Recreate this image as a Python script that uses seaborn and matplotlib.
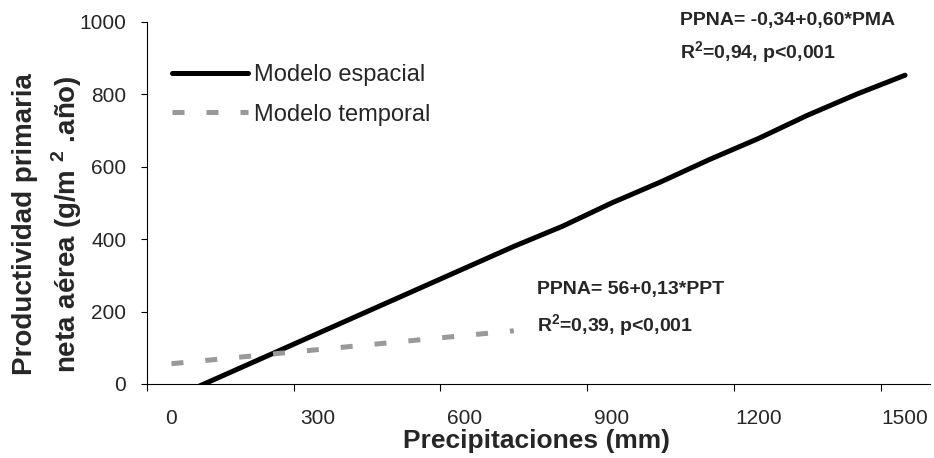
import numpy as np
import pandas as pd
import matplotlib
matplotlib.use("Agg")
import matplotlib.pyplot as plt
import seaborn as sns
from matplotlib.ticker import FixedLocator, NullFormatter, FixedFormatter

# ====================== DATA ======================

precip_espacial = [0, 100, 200, 300, 400, 500, 600, 700, 800, 900, 1000, 1100, 1200, 1300, 1400, 1500]
ppna_espacial   = [-40, 20, 80, 140, 200, 260, 320, 380, 436, 500, 558, 620, 678, 742, 800, 853]

precip_temporal = [0, 100, 200, 300, 400, 500, 600, 700]
ppna_temporal   = [56, 69, 82, 95, 108, 121, 134, 147]

x_labels = [0, 300, 600, 900, 1200, 1500]
x_bounds = [-50, 250, 550, 850, 1150, 1450]   # Excel category-axis tick marks sit between categories
y_ticks  = [0, 200, 400, 600, 800, 1000]

eq_espacial = "PPNA= -0,34+0,60*PMA"
r2_espacial = "R$^{\\mathbf{2}}$=0,94, p<0,001"
eq_temporal = "PPNA= 56+0,13*PPT"
r2_temporal = "R$^{\\mathbf{2}}$=0,39, p<0,001"

# ====================== STYLE ======================

sns.set_style("white")
plt.rcParams['font.family']      = ['Liberation Sans', 'DejaVu Sans']
plt.rcParams['mathtext.fontset'] = 'custom'
plt.rcParams['mathtext.rm']      = 'Liberation Sans'
plt.rcParams['mathtext.bf']      = 'Liberation Sans:bold'

df_esp = pd.DataFrame({'precip': precip_espacial, 'ppna': ppna_espacial})
df_tmp = pd.DataFrame({'precip': precip_temporal, 'ppna': ppna_temporal})

# ====================== PLOT ======================

fig = plt.figure(figsize=(9.34, 4.58), dpi=100)
ax  = fig.add_axes([0.1574, 0.1616, 0.8378, 0.7904])

sns.lineplot(data=df_esp, x='precip', y='ppna', ax=ax, color='black',
             linewidth=3.6, label='Modelo espacial', solid_capstyle='round')
sns.lineplot(data=df_tmp, x='precip', y='ppna', ax=ax, color='#999999',
             linewidth=3.6, label='Modelo temporal',
             linestyle=(0, (2.4, 4.4)), dash_capstyle='butt')

ax.set_xlim(-50, 1550)
ax.set_ylim(0, 1000)

# x axis: marks at boundaries, labels at category centres
ax.xaxis.set_major_locator(FixedLocator(x_bounds))
ax.xaxis.set_major_formatter(NullFormatter())
ax.xaxis.set_minor_locator(FixedLocator(x_labels))
ax.xaxis.set_minor_formatter(FixedFormatter([str(v) for v in x_labels]))
ax.tick_params(axis='x', which='major', direction='out', length=5, width=0.8,
               color='black', bottom=True)
ax.tick_params(axis='x', which='minor', length=0, pad=18, labelsize=15,
               bottom=True)

ax.yaxis.set_major_locator(FixedLocator(y_ticks))
ax.tick_params(axis='y', direction='out', length=4, width=0.8, color='black',
               pad=11, labelsize=15, left=True)

for side in ['top', 'right']:
    ax.spines[side].set_visible(False)
for side in ['left', 'bottom']:
    ax.spines[side].set_color('black')
    ax.spines[side].set_linewidth(0.8)

ax.set_xlabel('Precipitaciones (mm)', fontsize=19, fontweight='bold', va='center')
ax.xaxis.set_label_coords(0.498, -0.157)
ax.set_ylabel('Productividad primaria\nneta aérea (g/m $^{\\mathbf{2}}$ .año)',
              fontsize=20, fontweight='bold', va='center', linespacing=1.42)
ax.yaxis.set_label_coords(-0.1265, 0.442)

# ---- regression annotations ----
ax.text(1040, 1005, eq_espacial, fontweight='bold', fontsize=14,
        ha='left', va='center', clip_on=False)
ax.text(1040, 914, r2_espacial, fontweight='bold', fontsize=14,
        ha='left', va='center')
ax.text(747, 260, eq_temporal, fontweight='bold', fontsize=14,
        ha='left', va='center')
ax.text(747, 160, r2_temporal, fontweight='bold', fontsize=14,
        ha='left', va='center')

ax.legend(loc='upper left', bbox_to_anchor=(0.032, 0.884), frameon=False,
          fontsize=17, handlelength=3.2, handletextpad=0.25, labelspacing=0.75,
          borderpad=0, borderaxespad=0)

plt.savefig('out.png', dpi=100)
